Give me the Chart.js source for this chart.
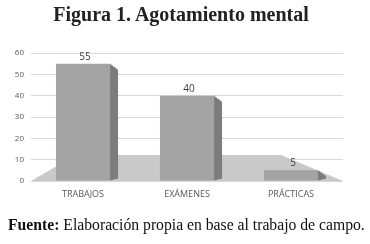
<!DOCTYPE html>
<html>
<head>
<meta charset="utf-8">
<script src="https://cdn.jsdelivr.net/npm/chart.js@4.4.1/dist/chart.umd.min.js"></script>
<style>
  html, body { margin: 0; padding: 0; background: #fff; }
  #wrap { position: relative; width: 370px; height: 244px; overflow: hidden; }
  #chart { position: absolute; left: 0; top: 0; }
  .title { position: absolute; left: 0; top: 3px; width: 362px; text-align: center;
           font: bold 20px "Liberation Serif", "Times New Roman", serif; color: #222; }
  .source { position: absolute; left: 8px; top: 216px; white-space: nowrap;
            font: 15.7px "Liberation Serif", "Times New Roman", serif; color: #111; }
</style>
</head>
<body>
<div id="wrap">
  <canvas id="chart" width="370" height="244"></canvas>
  <div class="title">Figura 1. Agotamiento mental</div>
  <div class="source"><b>Fuente:</b> Elaboración propia en base al trabajo de campo.</div>
</div>
<script>
const categories = ['TRABAJOS', 'EXÁMENES', 'PRÁCTICAS'];
const values = [55, 40, 5];
const yTicks = [0, 10, 20, 30, 40, 50, 60];

// floor under the bars, drawn in the chart area before the bars
const floorPlugin = {
    id: 'floor',
    beforeDatasetsDraw(chart) {
        const { ctx, chartArea: a } = chart;
        ctx.save();
        ctx.fillStyle = '#c9c9c9';
        ctx.beginPath();
        ctx.moveTo(a.left, a.bottom);
        ctx.lineTo(a.right, a.bottom);
        ctx.lineTo(a.right - 62, a.bottom - 26);
        ctx.lineTo(a.left + 45, a.bottom - 26);
        ctx.closePath();
        ctx.fill();
        ctx.restore();
    }
};

// darker side face and value labels on each bar
const barExtras = {
    id: 'barExtras',
    afterDatasetsDraw(chart) {
        const { ctx } = chart;
        const meta = chart.getDatasetMeta(0);
        ctx.save();
        meta.data.forEach((bar, i) => {
            const right = bar.x + bar.width / 2;
            ctx.fillStyle = '#7c7c7c';
            ctx.beginPath();
            ctx.moveTo(right, bar.y);
            ctx.lineTo(right + 8, bar.y + 6);
            ctx.lineTo(right + 8, bar.base - 2);
            ctx.lineTo(right, bar.base);
            ctx.closePath();
            ctx.fill();

            ctx.fillStyle = '#404040';
            ctx.font = '10px "Open Sans", sans-serif';
            ctx.textAlign = 'center';
            ctx.textBaseline = 'bottom';
            ctx.fillText(values[i], bar.x + 2, bar.y - 2);
        });
        ctx.restore();
    }
};

new Chart(document.getElementById('chart'), {
    type: 'bar',
    data: {
        labels: categories,
        datasets: [{
            data: values,
            backgroundColor: '#a3a3a3',
            borderWidth: 0,
            barPercentage: 0.65,
            categoryPercentage: 0.8
        }]
    },
    options: {
        responsive: false,
        animation: false,
        layout: { padding: { top: 53, right: 27, left: 0, bottom: 0 } },
        plugins: {
            legend: { display: false },
            tooltip: { enabled: false }
        },
        scales: {
            x: {
                grid: { display: false, drawTicks: false },
                border: { display: false },
                ticks: {
                    padding: 8,
                    color: '#595959',
                    font: { family: '"Open Sans", sans-serif', size: 9 }
                },
                afterFit(scale) { scale.height = 63; }
            },
            y: {
                min: 0,
                max: 60,
                afterBuildTicks(scale) { scale.ticks = yTicks.map(v => ({ value: v })); },
                grid: { color: '#d9d9d9', drawTicks: false },
                border: { display: false },
                ticks: {
                    padding: 7,
                    color: '#595959',
                    font: { family: '"Open Sans", sans-serif', size: 8 }
                },
                afterFit(scale) { scale.width = 31; }
            }
        }
    },
    plugins: [floorPlugin, barExtras]
});
</script>
</body>
</html>
